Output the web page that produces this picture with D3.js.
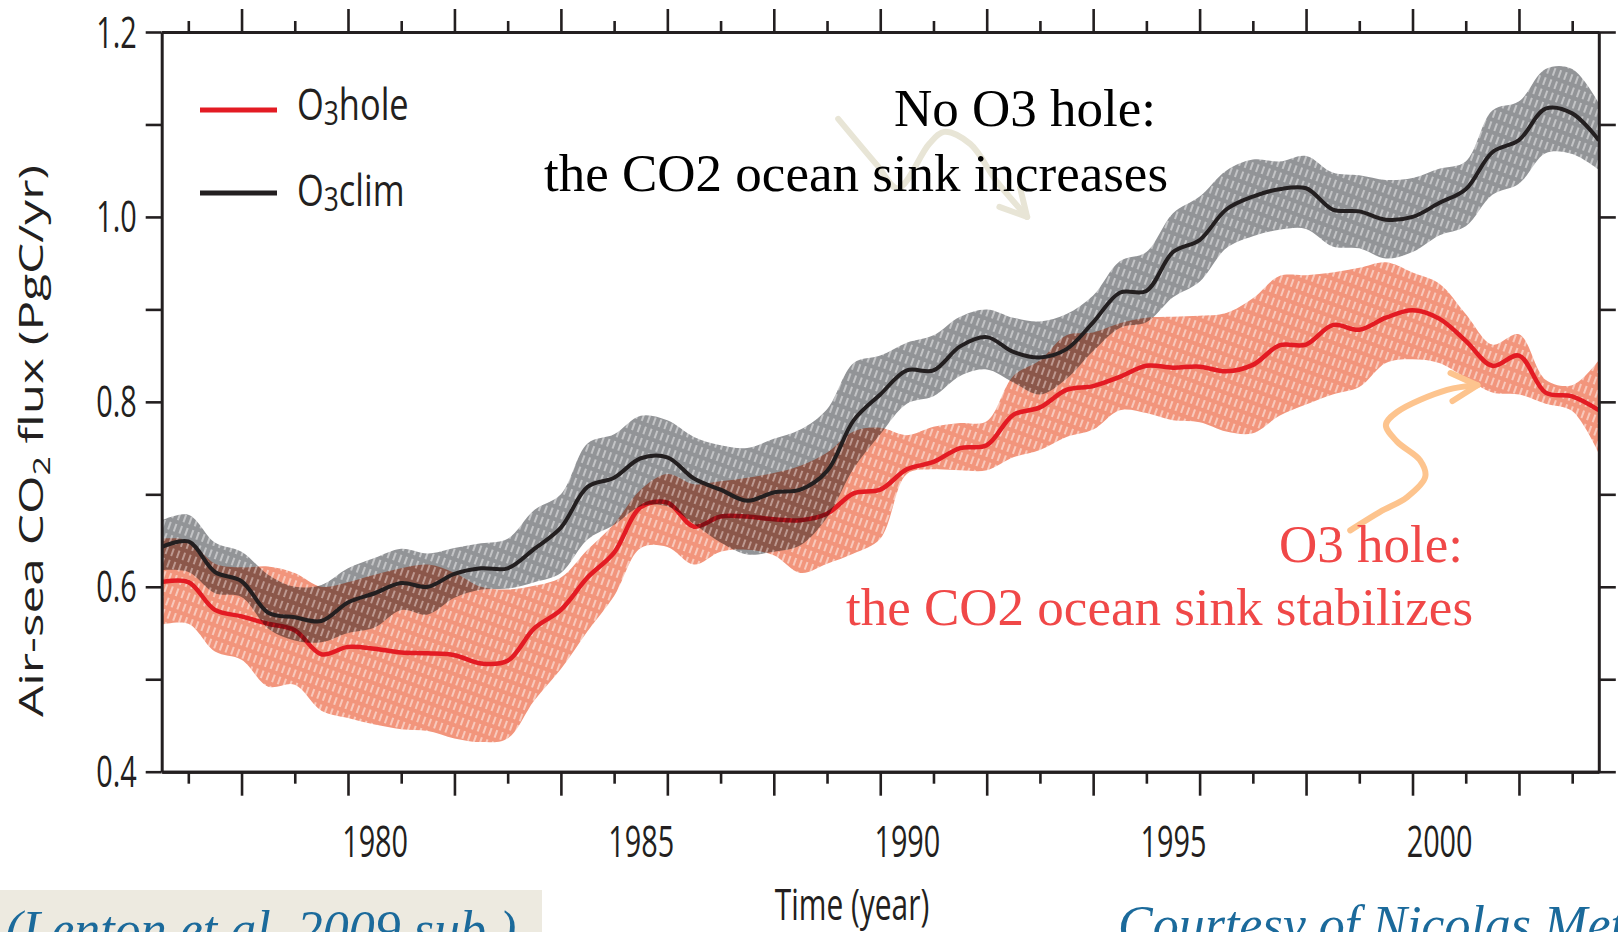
<!DOCTYPE html>
<html>
<head>
<meta charset="utf-8">
<script src="https://cdn.jsdelivr.net/npm/d3@7"></script>
<style>
  body { margin: 0; background: #fff; }
  svg { display: block; }
</style>
</head>
<body>
<svg id="chart" width="1618" height="932"></svg>
<script>
// half-year sample points
const years = [1976.5, 1977, 1977.5, 1978, 1978.5, 1979, 1979.5, 1980, 1980.5, 1981, 1981.5,
    1982, 1982.5, 1983, 1983.5, 1984, 1984.5, 1985, 1985.5, 1986, 1986.5, 1987, 1987.5,
    1988, 1988.5, 1989, 1989.5, 1990, 1990.5, 1991, 1991.5, 1992, 1992.5, 1993, 1993.5,
    1994, 1994.5, 1995, 1995.5, 1996, 1996.5, 1997, 1997.5, 1998, 1998.5, 1999, 1999.5,
    2000, 2000.5, 2001, 2001.5, 2002, 2002.5, 2003, 2003.5]

// O3hole run (red)
const holeMean = [0.605, 0.605, 0.575, 0.568, 0.560, 0.553, 0.527, 0.535, 0.533, 0.529, 0.528,
    0.526, 0.517, 0.520, 0.555, 0.575, 0.610, 0.637, 0.686, 0.691, 0.665, 0.676, 0.676,
    0.673, 0.672, 0.679, 0.701, 0.705, 0.727, 0.735, 0.750, 0.753, 0.786, 0.794, 0.813,
    0.817, 0.827, 0.839, 0.837, 0.838, 0.833, 0.840, 0.861, 0.862, 0.883, 0.878, 0.891,
    0.899, 0.890, 0.866, 0.839, 0.850, 0.810, 0.806, 0.791]
const holeHi = [0.652, 0.650, 0.625, 0.621, 0.622, 0.615, 0.600, 0.605, 0.613, 0.620, 0.624,
    0.615, 0.600, 0.597, 0.601, 0.610, 0.640, 0.668, 0.705, 0.722, 0.711, 0.714, 0.718,
    0.723, 0.731, 0.745, 0.768, 0.772, 0.764, 0.773, 0.777, 0.779, 0.828, 0.845, 0.872,
    0.875, 0.885, 0.891, 0.892, 0.893, 0.896, 0.912, 0.936, 0.937, 0.940, 0.945, 0.951,
    0.940, 0.928, 0.895, 0.862, 0.873, 0.824, 0.818, 0.845]
const holeLo = [0.559, 0.560, 0.530, 0.521, 0.492, 0.494, 0.466, 0.458, 0.451, 0.446, 0.444,
    0.436, 0.432, 0.436, 0.477, 0.511, 0.552, 0.590, 0.642, 0.643, 0.624, 0.638, 0.640,
    0.634, 0.615, 0.625, 0.636, 0.652, 0.722, 0.727, 0.726, 0.726, 0.740, 0.748, 0.762,
    0.770, 0.791, 0.788, 0.780, 0.778, 0.768, 0.766, 0.785, 0.797, 0.808, 0.816, 0.842,
    0.846, 0.842, 0.826, 0.810, 0.808, 0.798, 0.790, 0.744]

// O3clim run (black)
const climMean = [0.643, 0.649, 0.616, 0.606, 0.572, 0.567, 0.563, 0.583, 0.593, 0.604, 0.600,
    0.614, 0.620, 0.620, 0.641, 0.664, 0.708, 0.718, 0.739, 0.740, 0.717, 0.705, 0.693,
    0.702, 0.705, 0.725, 0.780, 0.808, 0.834, 0.834, 0.860, 0.870, 0.854, 0.848, 0.857,
    0.886, 0.918, 0.920, 0.962, 0.975, 1.008, 1.022, 1.030, 1.031, 1.008, 1.006, 0.997,
    1.000, 1.015, 1.030, 1.070, 1.083, 1.117, 1.112, 1.083]
const climHi = [0.672, 0.678, 0.648, 0.638, 0.613, 0.600, 0.602, 0.620, 0.631, 0.641, 0.636,
    0.642, 0.647, 0.652, 0.683, 0.700, 0.755, 0.765, 0.785, 0.780, 0.762, 0.753, 0.750,
    0.760, 0.770, 0.792, 0.842, 0.850, 0.864, 0.872, 0.892, 0.900, 0.891, 0.887, 0.895,
    0.915, 0.952, 0.962, 1.004, 1.022, 1.050, 1.062, 1.060, 1.066, 1.048, 1.045, 1.040,
    1.042, 1.052, 1.060, 1.115, 1.125, 1.160, 1.160, 1.123]
const climLo = [0.618, 0.616, 0.593, 0.589, 0.555, 0.542, 0.540, 0.550, 0.556, 0.575, 0.570,
    0.588, 0.597, 0.598, 0.605, 0.615, 0.651, 0.667, 0.687, 0.687, 0.668, 0.648, 0.635,
    0.638, 0.645, 0.675, 0.728, 0.765, 0.798, 0.806, 0.828, 0.835, 0.821, 0.808, 0.825,
    0.855, 0.880, 0.886, 0.913, 0.930, 0.966, 0.979, 0.986, 0.987, 0.968, 0.966, 0.955,
    0.962, 0.980, 0.990, 1.024, 1.036, 1.069, 1.068, 1.051]

const tickYears = [1977, 1978, 1979, 1980, 1981, 1982, 1983, 1984, 1985, 1986, 1987, 1988, 1989,
    1990, 1991, 1992, 1993, 1994, 1995, 1996, 1997, 1998, 1999, 2000, 2001, 2002, 2003]
const labelYears = [1980, 1985, 1990, 1995, 2000]
const yTicks = [0.4, 0.5, 0.6, 0.7, 0.8, 0.9, 1.0, 1.1, 1.2]
const yLabels = [0.4, 0.6, 0.8, 1.0, 1.2]

// annotation arrows, in data units
const arrowNoHole = [[1989.21, 1.106], [1989.94, 1.056], [1990.33, 1.031], [1990.92, 1.079],
    [1991.20, 1.092], [1991.69, 1.079], [1992.18, 1.039], [1992.76, 1.000]]
const arrowHole = [[1998.83, 0.661], [1999.39, 0.681], [1999.90, 0.697], [2000.24, 0.719],
    [2000.14, 0.737], [1999.71, 0.757], [1999.50, 0.775], [1999.71, 0.789], [2000.65, 0.813],
    [2001.22, 0.818]]

const axisColor = "#231f20"
const sansFont = "'Open Sans', 'Noto Sans', sans-serif"
const squash = 0.67 // the source figure is squeezed horizontally

const svg = d3.select("#chart")

const x = d3.scaleLinear().domain([1976.5, 2003.5]).range([161.7, 1598.8])
const y = d3.scaleLinear().domain([0.4, 1.2]).range([771.7, 32])

const defs = svg.append("defs")
defs.append("clipPath").attr("id", "plotClip")
    .append("rect")
    .attr("x", x.range()[0]).attr("y", y.range()[1])
    .attr("width", x.range()[1] - x.range()[0])
    .attr("height", y.range()[0] - y.range()[1])

function hatch(id, base, lineOpacity) {
    const p = defs.append("pattern")
        .attr("id", id)
        .attr("patternUnits", "userSpaceOnUse")
        .attr("width", 6).attr("height", 12)
        .attr("patternTransform", "rotate(20)")
    p.append("rect").attr("width", 6).attr("height", 12).attr("fill", base)
    p.append("line")
        .attr("x1", 3).attr("x2", 3).attr("y1", 0).attr("y2", 12)
        .attr("stroke", "#fff").attr("stroke-width", 1.5)
        .attr("stroke-dasharray", "8 4")
        .attr("opacity", lineOpacity)
}
hatch("hatchRed", "#f2957c", 0.65)
hatch("hatchGray", "#929497", 0.6)

function arrowMarker(id, color) {
    defs.append("marker")
        .attr("id", id)
        .attr("markerUnits", "userSpaceOnUse")
        .attr("viewBox", "-40 -40 80 80")
        .attr("markerWidth", 80).attr("markerHeight", 80)
        .attr("refX", 0).attr("refY", 0)
        .attr("orient", "auto")
        .append("path")
        .attr("d", "M-26,-14 L0,0 L-26,14")
        .attr("fill", "none")
        .attr("stroke", color)
        .attr("stroke-width", 6)
        .attr("stroke-linecap", "round")
        .attr("stroke-linejoin", "round")
}
arrowMarker("headBeige", "#e8e5d6")
arrowMarker("headOrange", "#fdc48e")

const area = (lo, hi) => d3.area()
    .x((d, i) => x(years[i]))
    .y0((d, i) => y(lo[i]))
    .y1((d, i) => y(hi[i]))
    .curve(d3.curveCatmullRom)

const line = vals => d3.line()
    .x((d, i) => x(years[i]))
    .y((d, i) => y(vals[i]))
    .curve(d3.curveCatmullRom)

const plot = svg.append("g").attr("clip-path", "url(#plotClip)")

plot.append("path").datum(years)
    .attr("d", area(holeLo, holeHi))
    .attr("fill", "url(#hatchRed)")

plot.append("path").datum(years)
    .attr("d", line(holeMean))
    .attr("fill", "none")
    .attr("stroke", "#e31b23")
    .attr("stroke-width", 4.5)

plot.append("path").datum(years)
    .attr("d", area(climLo, climHi))
    .attr("fill", "url(#hatchGray)")
    .style("mix-blend-mode", "multiply")

plot.append("path").datum(years)
    .attr("d", line(climMean))
    .attr("fill", "none")
    .attr("stroke", "#231f20")
    .attr("stroke-width", 4)

// axes
function styleAxis(g) {
    g.select(".domain").attr("stroke", axisColor).attr("stroke-width", 3)
    g.selectAll(".tick line").attr("stroke", axisColor).attr("stroke-width", 2.6)
}

const even = tickYears.filter(d => d % 2 === 0)
const odd = tickYears.filter(d => d % 2 === 1)

svg.append("g")
    .attr("transform", `translate(0,${y.range()[0]})`)
    .call(d3.axisBottom(x).tickValues(even).tickSize(24).tickSizeOuter(0).tickFormat(""))
    .call(styleAxis)
svg.append("g")
    .attr("transform", `translate(0,${y.range()[0]})`)
    .call(d3.axisBottom(x).tickValues(odd).tickSize(12).tickSizeOuter(0).tickFormat(""))
    .call(styleAxis)
svg.append("g")
    .attr("transform", `translate(0,${y.range()[1]})`)
    .call(d3.axisTop(x).tickValues(even).tickSize(23).tickSizeOuter(0).tickFormat(""))
    .call(styleAxis)
svg.append("g")
    .attr("transform", `translate(0,${y.range()[1]})`)
    .call(d3.axisTop(x).tickValues(odd).tickSize(11).tickSizeOuter(0).tickFormat(""))
    .call(styleAxis)

// year labels sit in the middle of each labelled year
svg.append("g")
    .attr("transform", `translate(0,${y.range()[0]})`)
    .call(d3.axisBottom(x).tickValues(labelYears.map(d => d + 0.5)).tickSize(0)
        .tickFormat(d => Math.floor(d)))
    .call(g => g.select(".domain").remove())
    .call(g => g.selectAll("text")
        .attr("y", 85).attr("dy", 0)
        .attr("transform", `scale(${squash},1)`)
        .attr("fill", axisColor)
        .style("font-family", sansFont)
        .style("font-size", "43px"))

svg.append("g")
    .attr("transform", `translate(${x.range()[0]},0)`)
    .call(d3.axisLeft(y).tickValues(yTicks).tickSize(16).tickSizeOuter(0)
        .tickFormat(d => yLabels.includes(d) ? d.toFixed(1) : ""))
    .call(styleAxis)
    .call(g => g.selectAll("text")
        .attr("x", -25 / squash).attr("dy", "0.35em")
        .attr("transform", `scale(${squash},1)`)
        .attr("fill", axisColor)
        .style("font-family", sansFont)
        .style("font-size", "43px"))

svg.append("g")
    .attr("transform", `translate(${x.range()[1]},0)`)
    .call(d3.axisRight(y).tickValues(yTicks).tickSize(17).tickSizeOuter(0).tickFormat(""))
    .call(styleAxis)

// axis titles
svg.append("text")
    .attr("transform", `translate(852,920) scale(${squash + 0.01},1)`)
    .attr("text-anchor", "middle")
    .attr("fill", axisColor)
    .style("font-family", sansFont)
    .style("font-size", "44px")
    .text("Time (year)")

const yTitle = svg.append("text")
    .attr("transform", `translate(43,441) rotate(-90) scale(1,${squash})`)
    .attr("text-anchor", "middle")
    .attr("fill", axisColor)
    .attr("textLength", 552)
    .attr("lengthAdjust", "spacingAndGlyphs")
    .style("font-family", sansFont)
    .style("font-size", "50px")
yTitle.append("tspan").text("Air-sea CO")
yTitle.append("tspan").attr("dy", 10).style("font-size", "34px").text("2")
yTitle.append("tspan").attr("dy", -10).text(" flux (PgC/yr)")

// legend
const legend = [
    {name: "hole", color: "#e31b23", ly: 110, ty: 120},
    {name: "clim", color: "#231f20", ly: 193, ty: 206}
]
legend.forEach(d => {
    svg.append("line")
        .attr("x1", 200).attr("x2", 277)
        .attr("y1", d.ly).attr("y2", d.ly)
        .attr("stroke", d.color).attr("stroke-width", 5)
    const t = svg.append("text")
        .attr("transform", `translate(297,${d.ty}) scale(0.8,1)`)
        .attr("fill", axisColor)
        .style("font-family", sansFont)
        .style("font-size", "43px")
    t.append("tspan").text("O")
    t.append("tspan").attr("dy", 5).style("font-size", "33px").text("3")
    t.append("tspan").attr("dy", -5).text(d.name)
})

// annotations
const arrowLine = d3.line().x(d => x(d[0])).y(d => y(d[1])).curve(d3.curveCatmullRom)

svg.append("path")
    .attr("d", arrowLine(arrowNoHole))
    .attr("fill", "none")
    .attr("stroke", "#e8e5d6")
    .attr("stroke-width", 6)
    .attr("stroke-linecap", "round")
    .attr("marker-end", "url(#headBeige)")

svg.append("path")
    .attr("d", arrowLine(arrowHole))
    .attr("fill", "none")
    .attr("stroke", "#fdc48e")
    .attr("stroke-width", 6)
    .attr("stroke-linecap", "round")
    .attr("marker-end", "url(#headOrange)")

const serif = "'Liberation Serif', 'Times New Roman', serif"
const notes = [
    {text: "No O3 hole:", x: 894, y: 126, color: "#000"},
    {text: "the CO2 ocean sink increases", x: 544, y: 191, color: "#000"},
    {text: "O3 hole:", x: 1279, y: 562, color: "#f04848"},
    {text: "the CO2 ocean sink stabilizes", x: 846, y: 625, color: "#f04848"}
]
svg.selectAll(".note")
    .data(notes)
    .join("text")
    .attr("class", "note")
    .attr("x", d => d.x).attr("y", d => d.y)
    .attr("fill", d => d.color)
    .style("font-family", serif)
    .style("font-size", "53px")
    .text(d => d.text)

// credits along the bottom edge (cut by the frame, as in the slide)
svg.append("rect")
    .attr("x", 0).attr("y", 890).attr("width", 542).attr("height", 42)
    .attr("fill", "#edeae0")
svg.append("text")
    .attr("x", 5).attr("y", 947)
    .attr("fill", "#1b6a9b")
    .style("font-family", serif).style("font-style", "italic")
    .style("font-size", "52px")
    .text("(Lenton et al. 2009 sub.)")
svg.append("text")
    .attr("x", 1118).attr("y", 942)
    .attr("fill", "#1b6a9b")
    .style("font-family", serif).style("font-style", "italic")
    .style("font-size", "52px")
    .text("Courtesy of Nicolas Metzl")
</script>
</body>
</html>
